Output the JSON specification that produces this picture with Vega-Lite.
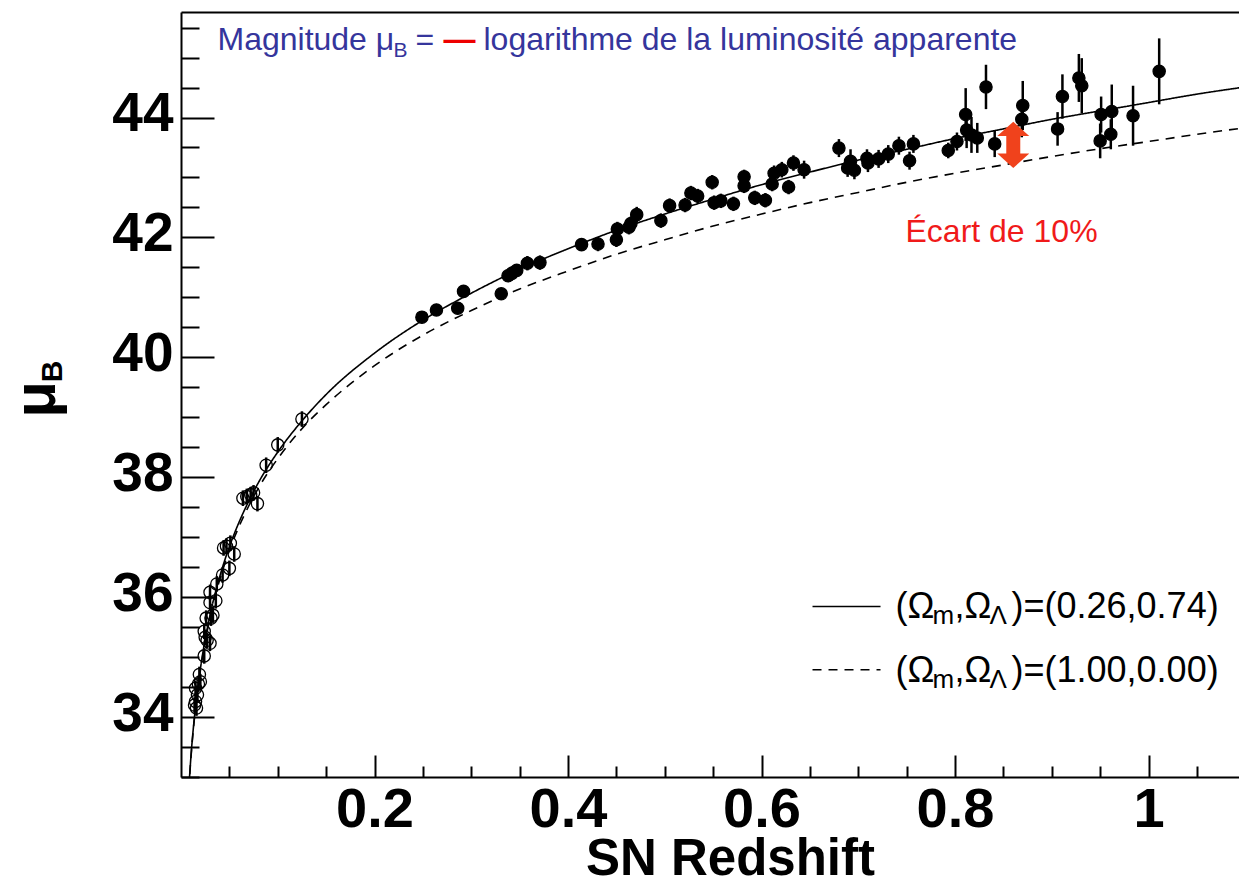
{
  "$schema": "https://vega.github.io/schema/vega-lite/v6.json",
  "width": 1058,
  "height": 765,
  "autosize": {"type": "none"},
  "padding": {"left": 181, "top": 12, "right": 0, "bottom": 108},
  "background": "white",
  "config": {"view": {"stroke": null}, "axis": {"grid": false}},
  "datasets": {
    "curves": [
      {"z": 0.008, "mu": 32.79, "model": "lcdm"}, {"z": 0.01, "mu": 33.28, "model": "lcdm"}, {"z": 0.015, "mu": 34.17, "model": "lcdm"}, {"z": 0.02, "mu": 34.80, "model": "lcdm"}, {"z": 0.03, "mu": 35.70, "model": "lcdm"}, {"z": 0.04, "mu": 36.34, "model": "lcdm"}, {"z": 0.05, "mu": 36.84, "model": "lcdm"}, {"z": 0.06, "mu": 37.25, "model": "lcdm"}, {"z": 0.07, "mu": 37.60, "model": "lcdm"}, {"z": 0.08, "mu": 37.91, "model": "lcdm"}, {"z": 0.1, "mu": 38.42, "model": "lcdm"}, {"z": 0.125, "mu": 38.94, "model": "lcdm"}, {"z": 0.15, "mu": 39.38, "model": "lcdm"}, {"z": 0.2, "mu": 40.07, "model": "lcdm"}, {"z": 0.25, "mu": 40.62, "model": "lcdm"}, {"z": 0.3, "mu": 41.07, "model": "lcdm"}, {"z": 0.35, "mu": 41.47, "model": "lcdm"}, {"z": 0.4, "mu": 41.81, "model": "lcdm"}, {"z": 0.45, "mu": 42.12, "model": "lcdm"}, {"z": 0.5, "mu": 42.39, "model": "lcdm"}, {"z": 0.55, "mu": 42.64, "model": "lcdm"}, {"z": 0.6, "mu": 42.88, "model": "lcdm"}, {"z": 0.65, "mu": 43.09, "model": "lcdm"}, {"z": 0.7, "mu": 43.29, "model": "lcdm"}, {"z": 0.75, "mu": 43.47, "model": "lcdm"}, {"z": 0.8, "mu": 43.65, "model": "lcdm"}, {"z": 0.85, "mu": 43.81, "model": "lcdm"}, {"z": 0.9, "mu": 43.97, "model": "lcdm"}, {"z": 0.95, "mu": 44.11, "model": "lcdm"}, {"z": 1.0, "mu": 44.25, "model": "lcdm"}, {"z": 1.05, "mu": 44.39, "model": "lcdm"}, {"z": 1.1, "mu": 44.51, "model": "lcdm"},
      {"z": 0.008, "mu": 32.78, "model": "eds"}, {"z": 0.01, "mu": 33.26, "model": "eds"}, {"z": 0.015, "mu": 34.15, "model": "eds"}, {"z": 0.02, "mu": 34.77, "model": "eds"}, {"z": 0.03, "mu": 35.66, "model": "eds"}, {"z": 0.04, "mu": 36.29, "model": "eds"}, {"z": 0.05, "mu": 36.78, "model": "eds"}, {"z": 0.06, "mu": 37.18, "model": "eds"}, {"z": 0.07, "mu": 37.52, "model": "eds"}, {"z": 0.08, "mu": 37.82, "model": "eds"}, {"z": 0.1, "mu": 38.31, "model": "eds"}, {"z": 0.125, "mu": 38.81, "model": "eds"}, {"z": 0.15, "mu": 39.21, "model": "eds"}, {"z": 0.2, "mu": 39.86, "model": "eds"}, {"z": 0.25, "mu": 40.37, "model": "eds"}, {"z": 0.3, "mu": 40.78, "model": "eds"}, {"z": 0.35, "mu": 41.14, "model": "eds"}, {"z": 0.4, "mu": 41.44, "model": "eds"}, {"z": 0.45, "mu": 41.72, "model": "eds"}, {"z": 0.5, "mu": 41.96, "model": "eds"}, {"z": 0.55, "mu": 42.19, "model": "eds"}, {"z": 0.6, "mu": 42.39, "model": "eds"}, {"z": 0.65, "mu": 42.58, "model": "eds"}, {"z": 0.7, "mu": 42.75, "model": "eds"}, {"z": 0.75, "mu": 42.92, "model": "eds"}, {"z": 0.8, "mu": 43.07, "model": "eds"}, {"z": 0.85, "mu": 43.21, "model": "eds"}, {"z": 0.9, "mu": 43.35, "model": "eds"}, {"z": 0.95, "mu": 43.48, "model": "eds"}, {"z": 1.0, "mu": 43.60, "model": "eds"}, {"z": 1.05, "mu": 43.72, "model": "eds"}, {"z": 1.1, "mu": 43.83, "model": "eds"}
    ],
    "sn": [
      {"z": 0.249, "mu": 40.67, "lo": 40.57, "hi": 40.77, "kind": "hz"},
      {"z": 0.264, "mu": 40.79, "lo": 40.69, "hi": 40.89, "kind": "hz"},
      {"z": 0.286, "mu": 40.82, "lo": 40.72, "hi": 40.92, "kind": "hz"},
      {"z": 0.292, "mu": 41.10, "lo": 41.00, "hi": 41.20, "kind": "hz"},
      {"z": 0.331, "mu": 41.06, "lo": 40.96, "hi": 41.16, "kind": "hz"},
      {"z": 0.338, "mu": 41.36, "lo": 41.26, "hi": 41.46, "kind": "hz"},
      {"z": 0.342, "mu": 41.40, "lo": 41.28, "hi": 41.52, "kind": "hz"},
      {"z": 0.347, "mu": 41.45, "lo": 41.35, "hi": 41.55, "kind": "hz"},
      {"z": 0.358, "mu": 41.57, "lo": 41.45, "hi": 41.69, "kind": "hz"},
      {"z": 0.371, "mu": 41.58, "lo": 41.46, "hi": 41.70, "kind": "hz"},
      {"z": 0.414, "mu": 41.88, "lo": 41.78, "hi": 41.98, "kind": "hz"},
      {"z": 0.431, "mu": 41.89, "lo": 41.77, "hi": 42.01, "kind": "hz"},
      {"z": 0.450, "mu": 41.96, "lo": 41.84, "hi": 42.08, "kind": "hz"},
      {"z": 0.451, "mu": 42.14, "lo": 42.02, "hi": 42.26, "kind": "hz"},
      {"z": 0.463, "mu": 42.17, "lo": 42.05, "hi": 42.29, "kind": "hz"},
      {"z": 0.465, "mu": 42.23, "lo": 42.11, "hi": 42.35, "kind": "hz"},
      {"z": 0.471, "mu": 42.38, "lo": 42.25, "hi": 42.51, "kind": "hz"},
      {"z": 0.496, "mu": 42.28, "lo": 42.16, "hi": 42.40, "kind": "hz"},
      {"z": 0.505, "mu": 42.53, "lo": 42.41, "hi": 42.65, "kind": "hz"},
      {"z": 0.521, "mu": 42.54, "lo": 42.42, "hi": 42.66, "kind": "hz"},
      {"z": 0.527, "mu": 42.74, "lo": 42.62, "hi": 42.86, "kind": "hz"},
      {"z": 0.534, "mu": 42.69, "lo": 42.57, "hi": 42.81, "kind": "hz"},
      {"z": 0.549, "mu": 42.92, "lo": 42.80, "hi": 43.04, "kind": "hz"},
      {"z": 0.551, "mu": 42.58, "lo": 42.46, "hi": 42.70, "kind": "hz"},
      {"z": 0.558, "mu": 42.61, "lo": 42.49, "hi": 42.73, "kind": "hz"},
      {"z": 0.571, "mu": 42.56, "lo": 42.44, "hi": 42.68, "kind": "hz"},
      {"z": 0.582, "mu": 43.01, "lo": 42.89, "hi": 43.13, "kind": "hz"},
      {"z": 0.582, "mu": 42.86, "lo": 42.74, "hi": 42.98, "kind": "hz"},
      {"z": 0.593, "mu": 42.66, "lo": 42.54, "hi": 42.78, "kind": "hz"},
      {"z": 0.604, "mu": 42.62, "lo": 42.50, "hi": 42.74, "kind": "hz"},
      {"z": 0.611, "mu": 42.89, "lo": 42.77, "hi": 43.01, "kind": "hz"},
      {"z": 0.613, "mu": 43.07, "lo": 42.94, "hi": 43.20, "kind": "hz"},
      {"z": 0.621, "mu": 43.13, "lo": 43.00, "hi": 43.26, "kind": "hz"},
      {"z": 0.628, "mu": 42.84, "lo": 42.72, "hi": 42.96, "kind": "hz"},
      {"z": 0.633, "mu": 43.24, "lo": 43.11, "hi": 43.37, "kind": "hz"},
      {"z": 0.644, "mu": 43.13, "lo": 42.98, "hi": 43.28, "kind": "hz"},
      {"z": 0.680, "mu": 43.49, "lo": 43.34, "hi": 43.64, "kind": "hz"},
      {"z": 0.689, "mu": 43.16, "lo": 43.01, "hi": 43.31, "kind": "hz"},
      {"z": 0.692, "mu": 43.27, "lo": 43.07, "hi": 43.47, "kind": "hz"},
      {"z": 0.696, "mu": 43.12, "lo": 42.97, "hi": 43.27, "kind": "hz"},
      {"z": 0.709, "mu": 43.32, "lo": 43.17, "hi": 43.47, "kind": "hz"},
      {"z": 0.710, "mu": 43.24, "lo": 43.09, "hi": 43.39, "kind": "hz"},
      {"z": 0.721, "mu": 43.31, "lo": 43.16, "hi": 43.46, "kind": "hz"},
      {"z": 0.731, "mu": 43.39, "lo": 43.24, "hi": 43.54, "kind": "hz"},
      {"z": 0.742, "mu": 43.53, "lo": 43.38, "hi": 43.68, "kind": "hz"},
      {"z": 0.753, "mu": 43.28, "lo": 43.13, "hi": 43.43, "kind": "hz"},
      {"z": 0.757, "mu": 43.56, "lo": 43.41, "hi": 43.71, "kind": "hz"},
      {"z": 0.793, "mu": 43.45, "lo": 43.32, "hi": 43.58, "kind": "hz"},
      {"z": 0.802, "mu": 43.60, "lo": 43.45, "hi": 43.75, "kind": "hz"},
      {"z": 0.811, "mu": 44.05, "lo": 43.61, "hi": 44.49, "kind": "hz"},
      {"z": 0.812, "mu": 43.79, "lo": 43.49, "hi": 44.09, "kind": "hz"},
      {"z": 0.817, "mu": 43.71, "lo": 43.41, "hi": 44.01, "kind": "hz"},
      {"z": 0.823, "mu": 43.66, "lo": 43.41, "hi": 43.91, "kind": "hz"},
      {"z": 0.832, "mu": 44.51, "lo": 44.14, "hi": 44.88, "kind": "hz"},
      {"z": 0.841, "mu": 43.56, "lo": 43.34, "hi": 43.78, "kind": "hz"},
      {"z": 0.869, "mu": 43.97, "lo": 43.67, "hi": 44.27, "kind": "hz"},
      {"z": 0.870, "mu": 44.20, "lo": 43.79, "hi": 44.61, "kind": "hz"},
      {"z": 0.906, "mu": 43.81, "lo": 43.53, "hi": 44.09, "kind": "hz"},
      {"z": 0.911, "mu": 44.35, "lo": 43.98, "hi": 44.72, "kind": "hz"},
      {"z": 0.928, "mu": 44.66, "lo": 44.26, "hi": 45.06, "kind": "hz"},
      {"z": 0.931, "mu": 44.53, "lo": 44.07, "hi": 44.99, "kind": "hz"},
      {"z": 0.950, "mu": 43.61, "lo": 43.32, "hi": 43.90, "kind": "hz"},
      {"z": 0.951, "mu": 44.05, "lo": 43.75, "hi": 44.35, "kind": "hz"},
      {"z": 0.961, "mu": 43.72, "lo": 43.47, "hi": 43.97, "kind": "hz"},
      {"z": 0.962, "mu": 44.10, "lo": 43.65, "hi": 44.55, "kind": "hz"},
      {"z": 0.984, "mu": 44.03, "lo": 43.53, "hi": 44.53, "kind": "hz"},
      {"z": 1.011, "mu": 44.77, "lo": 44.22, "hi": 45.32, "kind": "hz"},
      {"z": 0.125, "mu": 38.97, "lo": 38.84, "hi": 39.10, "kind": "lowz"},
      {"z": 0.100, "mu": 38.54, "lo": 38.41, "hi": 38.67, "kind": "lowz"},
      {"z": 0.088, "mu": 38.20, "lo": 38.07, "hi": 38.33, "kind": "lowz"},
      {"z": 0.075, "mu": 37.74, "lo": 37.61, "hi": 37.87, "kind": "lowz"},
      {"z": 0.064, "mu": 37.65, "lo": 37.52, "hi": 37.78, "kind": "lowz"},
      {"z": 0.072, "mu": 37.71, "lo": 37.58, "hi": 37.84, "kind": "lowz"},
      {"z": 0.079, "mu": 37.56, "lo": 37.43, "hi": 37.69, "kind": "lowz"},
      {"z": 0.068, "mu": 37.68, "lo": 37.55, "hi": 37.81, "kind": "lowz"},
      {"z": 0.051, "mu": 36.90, "lo": 36.77, "hi": 37.03, "kind": "lowz"},
      {"z": 0.044, "mu": 36.82, "lo": 36.69, "hi": 36.95, "kind": "lowz"},
      {"z": 0.055, "mu": 36.72, "lo": 36.59, "hi": 36.85, "kind": "lowz"},
      {"z": 0.047, "mu": 36.85, "lo": 36.72, "hi": 36.98, "kind": "lowz"},
      {"z": 0.050, "mu": 36.48, "lo": 36.35, "hi": 36.61, "kind": "lowz"},
      {"z": 0.043, "mu": 36.37, "lo": 36.24, "hi": 36.50, "kind": "lowz"},
      {"z": 0.037, "mu": 36.22, "lo": 36.09, "hi": 36.35, "kind": "lowz"},
      {"z": 0.030, "mu": 36.08, "lo": 35.95, "hi": 36.21, "kind": "lowz"},
      {"z": 0.036, "mu": 35.94, "lo": 35.81, "hi": 36.07, "kind": "lowz"},
      {"z": 0.030, "mu": 35.91, "lo": 35.78, "hi": 36.04, "kind": "lowz"},
      {"z": 0.026, "mu": 35.65, "lo": 35.52, "hi": 35.78, "kind": "lowz"},
      {"z": 0.031, "mu": 35.65, "lo": 35.52, "hi": 35.78, "kind": "lowz"},
      {"z": 0.024, "mu": 35.43, "lo": 35.30, "hi": 35.56, "kind": "lowz"},
      {"z": 0.025, "mu": 35.33, "lo": 35.20, "hi": 35.46, "kind": "lowz"},
      {"z": 0.030, "mu": 35.23, "lo": 35.10, "hi": 35.36, "kind": "lowz"},
      {"z": 0.024, "mu": 35.02, "lo": 34.89, "hi": 35.15, "kind": "lowz"},
      {"z": 0.019, "mu": 34.71, "lo": 34.58, "hi": 34.84, "kind": "lowz"},
      {"z": 0.020, "mu": 34.59, "lo": 34.46, "hi": 34.72, "kind": "lowz"},
      {"z": 0.015, "mu": 34.48, "lo": 34.35, "hi": 34.61, "kind": "lowz"},
      {"z": 0.017, "mu": 34.37, "lo": 34.24, "hi": 34.50, "kind": "lowz"},
      {"z": 0.015, "mu": 34.26, "lo": 34.13, "hi": 34.39, "kind": "lowz"},
      {"z": 0.016, "mu": 34.15, "lo": 34.02, "hi": 34.28, "kind": "lowz"},
      {"z": 0.014, "mu": 34.20, "lo": 34.07, "hi": 34.33, "kind": "lowz"},
      {"z": 0.018, "mu": 34.55, "lo": 34.42, "hi": 34.68, "kind": "lowz"},
      {"z": 0.027, "mu": 35.28, "lo": 35.15, "hi": 35.41, "kind": "lowz"},
      {"z": 0.033, "mu": 35.70, "lo": 35.57, "hi": 35.83, "kind": "lowz"}
    ],
    "legline": [
      {"z": 0.6527, "z2": 0.7230, "mu": 35.844, "model": "lcdm"},
      {"z": 0.6527, "z2": 0.7230, "mu": 34.789, "model": "eds"}
    ],
    "legtext": [
      {"z": 0.7385, "mu": 35.656, "tail": ")=(0.26,0.74)"},
      {"z": 0.7385, "mu": 34.589, "tail": ")=(1.00,0.00)"}
    ],
    "head": [{"z": 0.0377, "mu": 45.12}],
    "ecart": [{"z": 0.7488, "mu": 41.93, "label": "Écart de 10%"}],
    "arrow": [{"z": 0.8602, "top": 43.81, "bot": 43.28, "s1": 43.76, "s2": 43.33}]
  },
  "resolve": {"axis": {"x": "independent", "y": "independent"}},
  "layer": [
    {
      "data": {"name": "curves"},
      "mark": {"type": "line", "clip": true, "color": "black", "strokeWidth": 1.6, "interpolate": "monotone"},
      "encoding": {
        "x": {"field": "z", "type": "quantitative", "scale": {"domain": [0, 1.0935], "nice": false, "zero": false},
          "axis": {"values": [0.2, 0.4, 0.6, 0.8, 1], "format": "~g", "tickSize": -22, "tickWidth": 2, "tickColor": "black", "domainWidth": 2, "domainColor": "black",
            "labelFont": "Liberation Sans", "labelFontWeight": "bold", "labelFontSize": 56, "labelPadding": 27, "labelColor": "black", "labelFlush": false, "labelOverlap": false,
            "title": "SN Redshift", "titleFont": "Liberation Sans", "titleFontWeight": "bold", "titleFontSize": 51, "titleColor": "black", "titleX": 549, "titleY": 97, "titleAlign": "center", "titleBaseline": "alphabetic"}},
        "y": {"field": "mu", "type": "quantitative", "scale": {"domain": [33, 45.76], "nice": false, "zero": false},
          "axis": {"values": [34, 36, 38, 40, 42, 44], "tickSize": -33, "tickWidth": 2, "tickColor": "black", "domainWidth": 2, "domainColor": "black",
            "labelFont": "Liberation Sans", "labelFontWeight": "bold", "labelFontSize": 55, "labelPadding": 41, "labelOffset": -4, "labelColor": "black", "labelOverlap": false,
            "title": "μ", "titleFont": "Liberation Sans", "titleFontWeight": "bold", "titleFontSize": 60, "titleColor": "black", "titleX": -145, "titleY": 387, "titleAngle": 270, "titleAlign": "center", "titleBaseline": "middle"}},
        "strokeDash": {"field": "model", "type": "nominal", "scale": {"domain": ["lcdm", "eds"], "range": [[1, 0], [9, 7]]}, "legend": null},
        "detail": {"field": "model"}
      }
    },
    {
      "data": {"name": "sn"},
      "mark": {"type": "rule", "color": "black", "strokeWidth": 2.5},
      "encoding": {
        "x": {"field": "z", "type": "quantitative", "scale": {"domain": [0, 1.0935], "nice": false, "zero": false},
          "axis": {"orient": "bottom", "values": [0.05, 0.1, 0.15, 0.25, 0.3, 0.35, 0.45, 0.5, 0.55, 0.65, 0.7, 0.75, 0.85, 0.9, 0.95, 1.05], "tickSize": -11, "tickWidth": 2, "tickColor": "black", "labels": false, "domain": false, "title": null}},
        "y": {"field": "lo", "type": "quantitative", "scale": {"domain": [33, 45.76], "nice": false, "zero": false},
          "axis": {"orient": "left", "values": [33, 33.5, 34.5, 35, 35.5, 36.5, 37, 37.5, 38.5, 39, 39.5, 40.5, 41, 41.5, 42.5, 43, 43.5, 44.5, 45, 45.5], "tickSize": -18, "tickWidth": 2, "tickColor": "black", "labels": false, "domain": false,
            "title": "B", "titleFont": "Liberation Sans", "titleFontWeight": "bold", "titleFontSize": 30, "titleColor": "black", "titleX": -129, "titleY": 359, "titleAngle": 270, "titleAlign": "center", "titleBaseline": "middle"}},
        "y2": {"field": "hi"}
      }
    },
    {
      "data": {"name": "sn"},
      "mark": {"type": "circle", "stroke": "black", "strokeWidth": 1.3, "opacity": 1, "size": 150},
      "encoding": {
        "x": {"field": "z", "type": "quantitative", "axis": null},
        "y": {"field": "mu", "type": "quantitative", "axis": null},
        "fill": {"field": "kind", "type": "nominal", "scale": {"domain": ["hz", "lowz"], "range": ["black", "rgba(255,255,255,0)"]}, "legend": null}
      }
    },
    {
      "data": {"name": "legline"},
      "mark": {"type": "rule", "color": "black", "strokeWidth": 1.6},
      "encoding": {
        "x": {"field": "z", "type": "quantitative",
          "axis": {"orient": "top", "domain": true, "domainWidth": 2, "domainColor": "black", "ticks": false, "labels": false, "title": null}},
        "x2": {"field": "z2"},
        "y": {"field": "mu", "type": "quantitative", "axis": null},
        "strokeDash": {"field": "model", "type": "nominal", "scale": {"domain": ["lcdm", "eds"], "range": [[1, 0], [9, 7]]}, "legend": null}
      }
    },
    {
      "data": {"name": "legtext"},
      "mark": {"type": "text", "text": "(Ω", "font": "Liberation Sans", "fontSize": 36, "align": "left", "baseline": "alphabetic", "color": "black"},
      "encoding": {"x": {"field": "z", "type": "quantitative", "axis": null}, "y": {"field": "mu", "type": "quantitative", "axis": null}}
    },
    {
      "data": {"name": "legtext"},
      "mark": {"type": "text", "text": "m", "font": "Liberation Sans", "fontSize": 26, "align": "left", "baseline": "alphabetic", "color": "black", "dx": 37, "dy": 6},
      "encoding": {"x": {"field": "z", "type": "quantitative", "axis": null}, "y": {"field": "mu", "type": "quantitative", "axis": null}}
    },
    {
      "data": {"name": "legtext"},
      "mark": {"type": "text", "text": ",Ω", "font": "Liberation Sans", "fontSize": 36, "align": "left", "baseline": "alphabetic", "color": "black", "dx": 59},
      "encoding": {"x": {"field": "z", "type": "quantitative", "axis": null}, "y": {"field": "mu", "type": "quantitative", "axis": null}}
    },
    {
      "data": {"name": "legtext"},
      "mark": {"type": "text", "text": "Λ", "font": "Liberation Sans", "fontSize": 26, "align": "left", "baseline": "alphabetic", "color": "black", "dx": 94, "dy": 6},
      "encoding": {"x": {"field": "z", "type": "quantitative", "axis": null}, "y": {"field": "mu", "type": "quantitative", "axis": null}}
    },
    {
      "data": {"name": "legtext"},
      "mark": {"type": "text", "font": "Liberation Sans", "fontSize": 36, "align": "left", "baseline": "alphabetic", "color": "black", "dx": 116},
      "encoding": {"x": {"field": "z", "type": "quantitative", "axis": null}, "y": {"field": "mu", "type": "quantitative", "axis": null}, "text": {"field": "tail"}}
    },
    {
      "data": {"name": "head"},
      "mark": {"type": "text", "text": "Magnitude μ", "font": "Liberation Sans", "fontSize": 32, "align": "left", "baseline": "alphabetic", "color": "#35359c"},
      "encoding": {"x": {"field": "z", "type": "quantitative", "axis": null}, "y": {"field": "mu", "type": "quantitative", "axis": null}}
    },
    {
      "data": {"name": "head"},
      "mark": {"type": "text", "text": "B", "font": "Liberation Sans", "fontSize": 21, "align": "left", "baseline": "alphabetic", "color": "#35359c", "dx": 176, "dy": 7},
      "encoding": {"x": {"field": "z", "type": "quantitative", "axis": null}, "y": {"field": "mu", "type": "quantitative", "axis": null}}
    },
    {
      "data": {"name": "head"},
      "mark": {"type": "text", "text": "=", "font": "Liberation Sans", "fontSize": 32, "align": "left", "baseline": "alphabetic", "color": "#35359c", "dx": 198},
      "encoding": {"x": {"field": "z", "type": "quantitative", "axis": null}, "y": {"field": "mu", "type": "quantitative", "axis": null}}
    },
    {
      "data": {"name": "head"},
      "mark": {"type": "text", "text": "—", "font": "Liberation Sans", "fontSize": 32, "fontWeight": "bold", "align": "left", "baseline": "alphabetic", "color": "#ee0000", "dx": 226},
      "encoding": {"x": {"field": "z", "type": "quantitative", "axis": null}, "y": {"field": "mu", "type": "quantitative", "axis": null}}
    },
    {
      "data": {"name": "head"},
      "mark": {"type": "text", "text": "logarithme de la luminosité apparente", "font": "Liberation Sans", "fontSize": 32, "align": "left", "baseline": "alphabetic", "color": "#35359c", "dx": 266},
      "encoding": {"x": {"field": "z", "type": "quantitative", "axis": null}, "y": {"field": "mu", "type": "quantitative", "axis": null}}
    },
    {
      "data": {"name": "ecart"},
      "mark": {"type": "text", "font": "Liberation Sans", "fontSize": 32, "align": "left", "baseline": "alphabetic", "color": "#f01a1a"},
      "encoding": {"x": {"field": "z", "type": "quantitative", "axis": null}, "y": {"field": "mu", "type": "quantitative", "axis": null}, "text": {"field": "label"}}
    },
    {
      "data": {"name": "arrow"},
      "mark": {"type": "rule", "color": "#f0421c", "strokeWidth": 14},
      "encoding": {"x": {"field": "z", "type": "quantitative", "axis": null}, "y": {"field": "s1", "type": "quantitative", "axis": null}, "y2": {"field": "s2"}}
    },
    {
      "data": {"name": "arrow"},
      "mark": {"type": "point", "shape": "M-1,0.45L1,0.45L0,-0.45Z", "filled": true, "color": "#f0421c", "opacity": 1, "size": 1024},
      "encoding": {"x": {"field": "z", "type": "quantitative", "axis": null}, "y": {"field": "top", "type": "quantitative", "axis": null}}
    },
    {
      "data": {"name": "arrow"},
      "mark": {"type": "point", "shape": "M-1,-0.45L1,-0.45L0,0.45Z", "filled": true, "color": "#f0421c", "opacity": 1, "size": 1024},
      "encoding": {"x": {"field": "z", "type": "quantitative", "axis": null}, "y": {"field": "bot", "type": "quantitative", "axis": null}}
    }
  ]
}
